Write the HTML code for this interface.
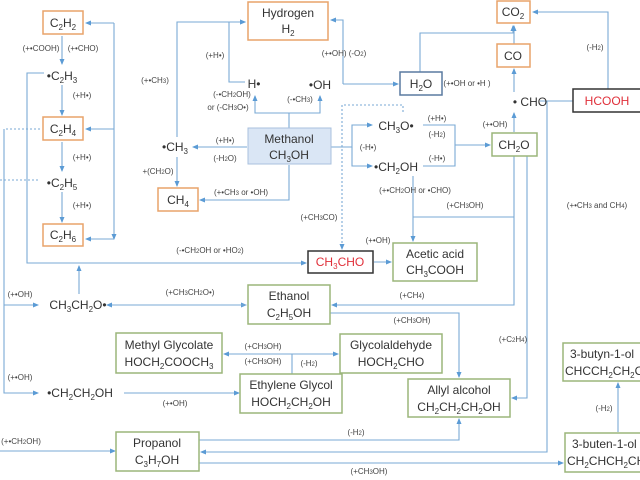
<!DOCTYPE html>
<html><head><meta charset="utf-8"><style>
html,body{margin:0;padding:0;background:#fff}
svg{display:block}
.b{fill:#fff;stroke-width:1.5}
.o{stroke:#e8a36a}.g{stroke:#9bb57a}.k{stroke:#333}.bl{stroke:#5a7aa0}
.t{font-family:"Liberation Sans",sans-serif;font-size:12px;fill:#333;text-anchor:middle}
.s{font-family:"Liberation Sans",sans-serif;font-size:8px;fill:#444;text-anchor:middle}
.r{fill:#e0303a}
line,polyline{stroke:#7aaad4;stroke-width:1.1;fill:none}
.d{stroke-dasharray:2,2}
</style></head><body>
<svg width="640" height="480" viewBox="0 0 640 480" xmlns="http://www.w3.org/2000/svg">
<defs><marker id="a" markerWidth="6" markerHeight="6" refX="5" refY="3" orient="auto" markerUnits="userSpaceOnUse"><path d="M0,0.5 L6,3 L0,5.5z" fill="#5b9bd5"/></marker></defs>
<g marker-end="url(#a)">
<polyline points="114,23 114,239"/>
<line x1="114" y1="23" x2="86" y2="23"/><line x1="114" y1="129" x2="86" y2="129"/><line x1="114" y1="239" x2="86" y2="239"/>
<line x1="62" y1="36" x2="62" y2="64"/><line x1="62" y1="85" x2="62" y2="115"/><line x1="62" y1="142" x2="62" y2="171"/><line x1="62" y1="192" x2="62" y2="222"/>
<polyline points="44,73 27,73 27,263 306,263"/>
<polyline points="4,129 4,393 38,393"/><line x1="4" y1="305" x2="38" y2="305"/>
<line x1="79" y1="294" x2="79" y2="266"/>
<polyline points="177,137 177,22 245,22"/>
<line x1="247" y1="147" x2="193" y2="147"/>
<line x1="177" y1="157" x2="177" y2="186"/>
<polyline points="289,165 289,200 200,200"/>
<polyline points="289,128 289,113 255,113 255,96"/><polyline points="289,113 320,113 320,96"/>
<polyline points="245,82 229,82 229,22 245,22"/>
<polyline points="343,84 398,84"/><polyline points="343,84 343,20 331,20"/>
<polyline points="420,72 420,33 513,33 513,26"/>
<line x1="514" y1="44" x2="514" y2="26"/>
<line x1="514" y1="92" x2="514" y2="69"/>
<polyline points="608,89 608,12 533,12"/>
<line x1="514" y1="132" x2="514" y2="113"/>
<line x1="455" y1="145" x2="490" y2="145"/>
<polyline points="330,147 352,147 352,125 372,125"/><polyline points="352,147 352,166 372,166"/>
<polyline class="d" points="403,112 403,105 342,105 342,249"/>
<line x1="413" y1="176" x2="413" y2="241"/>
<line x1="374" y1="262" x2="391" y2="262"/>
<polyline points="514,156 514,305 332,305"/>
<polyline points="330,313 459,313 459,377"/>
<polyline points="527,156 527,398 512,398"/>
<polyline points="292,374 292,354 224,354"/><line x1="292" y1="354" x2="338" y2="354"/>
<line x1="107" y1="305" x2="246" y2="305"/><line x1="246" y1="305" x2="107" y2="305"/>
<line x1="124" y1="393" x2="239" y2="393"/>
<polyline points="199,440 459,440 459,419"/>
<polyline points="547,101 547,452 201,452"/>
<line x1="199" y1="463" x2="563" y2="463"/>
<line x1="0" y1="451" x2="115" y2="451"/>
<line x1="618" y1="432" x2="618" y2="383"/>
</g>
<polyline points="423,125 455,125 455,166 423,166"/>
<line x1="413" y1="217" x2="514" y2="217"/>
<line x1="540" y1="101" x2="573" y2="101"/>
<line class="d" x1="40" y1="129" x2="4" y2="129"/><line class="d" x1="0" y1="180" x2="40" y2="180"/>

<rect class="b o" x="43" y="11" width="40" height="23"/><text class="t" x="63" y="27">C<tspan font-size="8" dy="3">2</tspan><tspan dy="-3">H</tspan><tspan font-size="8" dy="3">2</tspan></text>
<text class="t" x="62" y="80">•C<tspan font-size="8" dy="3">2</tspan><tspan dy="-3">H</tspan><tspan font-size="8" dy="3">3</tspan></text>
<rect class="b o" x="43" y="117" width="40" height="23"/><text class="t" x="63" y="133">C<tspan font-size="8" dy="3">2</tspan><tspan dy="-3">H</tspan><tspan font-size="8" dy="3">4</tspan></text>
<text class="t" x="62" y="187">•C<tspan font-size="8" dy="3">2</tspan><tspan dy="-3">H</tspan><tspan font-size="8" dy="3">5</tspan></text>
<rect class="b o" x="43" y="224" width="40" height="22"/><text class="t" x="63" y="239">C<tspan font-size="8" dy="3">2</tspan><tspan dy="-3">H</tspan><tspan font-size="8" dy="3">6</tspan></text>
<text class="t" x="175" y="151">•CH<tspan font-size="8" dy="3">3</tspan></text>
<rect class="b o" x="158" y="188" width="40" height="23"/><text class="t" x="178" y="204">CH<tspan font-size="8" dy="3">4</tspan></text>
<rect class="b o" x="248" y="2" width="80" height="38"/><text class="t" x="288" y="17">Hydrogen</text><text class="t" x="288" y="33">H<tspan font-size="8" dy="3">2</tspan></text>
<text class="t" x="254" y="88">H•</text><text class="t" x="320" y="89">•OH</text>
<rect x="248" y="128" width="83" height="36" fill="#dae6f5" stroke="#a9c0de"/><text class="t" x="289" y="143">Methanol</text><text class="t" x="289" y="159">CH<tspan font-size="8" dy="3">3</tspan><tspan dy="-3">OH</tspan></text>
<rect class="b bl" x="400" y="72" width="42" height="23"/><text class="t" x="421" y="88">H<tspan font-size="8" dy="3">2</tspan><tspan dy="-3">O</tspan></text>
<rect class="b o" x="497" y="1" width="33" height="22"/><text class="t" x="513" y="16">CO<tspan font-size="8" dy="3">2</tspan></text>
<rect class="b o" x="497" y="44" width="33" height="23"/><text class="t" x="513" y="60">CO</text>
<text class="t" x="530" y="106">• CHO</text>
<rect class="b k" x="573" y="89" width="70" height="23"/><text class="t r" x="607" y="105">HCOOH</text>
<rect class="b g" x="492" y="133" width="45" height="23"/><text class="t" x="514" y="149">CH<tspan font-size="8" dy="3">2</tspan><tspan dy="-3">O</tspan></text>
<text class="t" x="396" y="130">CH<tspan font-size="8" dy="3">3</tspan><tspan dy="-3">O•</tspan></text>
<text class="t" x="396" y="171">•CH<tspan font-size="8" dy="3">2</tspan><tspan dy="-3">OH</tspan></text>
<rect class="b k" x="308" y="251" width="65" height="22"/><text class="t r" x="340" y="266">CH<tspan font-size="8" dy="3">3</tspan><tspan dy="-3">CHO</tspan></text>
<rect class="b g" x="393" y="243" width="84" height="38"/><text class="t" x="435" y="258">Acetic acid</text><text class="t" x="435" y="274">CH<tspan font-size="8" dy="3">3</tspan><tspan dy="-3">COOH</tspan></text>
<text class="t" x="78" y="309">CH<tspan font-size="8" dy="3">3</tspan><tspan dy="-3">CH</tspan><tspan font-size="8" dy="3">2</tspan><tspan dy="-3">O•</tspan></text>
<rect class="b g" x="248" y="285" width="82" height="39"/><text class="t" x="289" y="300">Ethanol</text><text class="t" x="289" y="317">C<tspan font-size="8" dy="3">2</tspan><tspan dy="-3">H</tspan><tspan font-size="8" dy="3">5</tspan><tspan dy="-3">OH</tspan></text>
<rect class="b g" x="116" y="333" width="106" height="40"/><text class="t" x="169" y="349">Methyl Glycolate</text><text class="t" x="169" y="366">HOCH<tspan font-size="8" dy="3">2</tspan><tspan dy="-3">COOCH</tspan><tspan font-size="8" dy="3">3</tspan></text>
<rect class="b g" x="340" y="334" width="102" height="39"/><text class="t" x="391" y="349">Glycolaldehyde</text><text class="t" x="391" y="366">HOCH<tspan font-size="8" dy="3">2</tspan><tspan dy="-3">CHO</tspan></text>
<rect class="b g" x="240" y="374" width="102" height="39"/><text class="t" x="291" y="389">Ethylene Glycol</text><text class="t" x="291" y="406">HOCH<tspan font-size="8" dy="3">2</tspan><tspan dy="-3">CH</tspan><tspan font-size="8" dy="3">2</tspan><tspan dy="-3">OH</tspan></text>
<rect class="b g" x="408" y="379" width="102" height="38"/><text class="t" x="459" y="394">Allyl alcohol</text><text class="t" x="459" y="411">CH<tspan font-size="8" dy="3">2</tspan><tspan dy="-3">CH</tspan><tspan font-size="8" dy="3">2</tspan><tspan dy="-3">CH</tspan><tspan font-size="8" dy="3">2</tspan><tspan dy="-3">OH</tspan></text>
<text class="t" x="80" y="397">•CH<tspan font-size="8" dy="3">2</tspan><tspan dy="-3">CH</tspan><tspan font-size="8" dy="3">2</tspan><tspan dy="-3">OH</tspan></text>
<rect class="b g" x="116" y="432" width="83" height="39"/><text class="t" x="157" y="447">Propanol</text><text class="t" x="157" y="464">C<tspan font-size="8" dy="3">3</tspan><tspan dy="-3">H</tspan><tspan font-size="8" dy="3">7</tspan><tspan dy="-3">OH</tspan></text>
<rect class="b g" x="563" y="343" width="90" height="38"/><text class="t" x="570" y="358" style="text-anchor:start">3-butyn-1-ol</text><text class="t" x="565" y="375" style="text-anchor:start">CHCCH<tspan font-size="8" dy="3">2</tspan><tspan dy="-3">CH</tspan><tspan font-size="8" dy="3">2</tspan><tspan dy="-3">OH</tspan></text>
<rect class="b g" x="565" y="433" width="90" height="39"/><text class="t" x="572" y="448" style="text-anchor:start">3-buten-1-ol</text><text class="t" x="567" y="465" style="text-anchor:start">CH<tspan font-size="8" dy="3">2</tspan><tspan dy="-3">CHCH</tspan><tspan font-size="8" dy="3">2</tspan><tspan dy="-3">CH</tspan><tspan font-size="8" dy="3">2</tspan><tspan dy="-3">OH</tspan></text>

<g class="s">
<text x="41" y="51">(+•COOH)</text><text x="83" y="51">(+•CHO)</text>
<text x="82" y="98">(+H•)</text><text x="82" y="160">(+H•)</text><text x="82" y="208">(+H•)</text>
<text x="155" y="83">(+•CH<tspan font-size="6">3</tspan>)</text>
<text x="215" y="58">(+H•)</text>
<text x="232" y="97">(-•CH<tspan font-size="6">2</tspan>OH)</text><text x="228" y="110">or (-CH<tspan font-size="6">3</tspan>O•)</text>
<text x="300" y="102">(-•CH<tspan font-size="6">3</tspan>)</text>
<text x="225" y="143">(+H•)</text><text x="225" y="161">(-H<tspan font-size="6">2</tspan>O)</text>
<text x="158" y="174">+(CH<tspan font-size="6">2</tspan>O)</text>
<text x="241" y="195">(+•CH<tspan font-size="6">3</tspan> or •OH)</text>
<text x="344" y="56">(+•OH) (-O<tspan font-size="6">2</tspan>)</text>
<text x="467" y="86">(+•OH or •H )</text>
<text x="595" y="50">(-H<tspan font-size="6">2</tspan>)</text>
<text x="495" y="127">(+•OH)</text>
<text x="437" y="121">(+H•)</text><text x="437" y="137">(-H<tspan font-size="6">2</tspan>)</text><text x="437" y="161">(-H•)</text>
<text x="368" y="150">(-H•)</text>
<text x="415" y="193">(+•CH<tspan font-size="6">2</tspan>OH or •CHO)</text>
<text x="465" y="208">(+CH<tspan font-size="6">3</tspan>OH)</text>
<text x="319" y="220">(+CH<tspan font-size="6">3</tspan>CO)</text>
<text x="378" y="243">(+•OH)</text>
<text x="597" y="208">(+•CH<tspan font-size="6">3</tspan> and CH<tspan font-size="6">4</tspan>)</text>
<text x="210" y="253">(-•CH<tspan font-size="6">2</tspan>OH or •HO<tspan font-size="6">2</tspan>)</text>
<text x="20" y="297">(+•OH)</text><text x="20" y="380">(+•OH)</text>
<text x="190" y="295">(+CH<tspan font-size="6">3</tspan>CH<tspan font-size="6">2</tspan>O•)</text>
<text x="412" y="298">(+CH<tspan font-size="6">4</tspan>)</text>
<text x="412" y="323">(+CH<tspan font-size="6">3</tspan>OH)</text>
<text x="513" y="342">(+C<tspan font-size="6">2</tspan>H<tspan font-size="6">4</tspan>)</text>
<text x="263" y="349">(+CH<tspan font-size="6">3</tspan>OH)</text><text x="263" y="364">(+CH<tspan font-size="6">3</tspan>OH)</text><text x="309" y="366">(-H<tspan font-size="6">2</tspan>)</text>
<text x="175" y="406">(+•OH)</text>
<text x="356" y="435">(-H<tspan font-size="6">2</tspan>)</text>
<text x="21" y="444">(+•CH<tspan font-size="6">2</tspan>OH)</text>
<text x="369" y="474">(+CH<tspan font-size="6">3</tspan>OH)</text>
<text x="604" y="411">(-H<tspan font-size="6">2</tspan>)</text>
</g>
</svg>
</body></html>
